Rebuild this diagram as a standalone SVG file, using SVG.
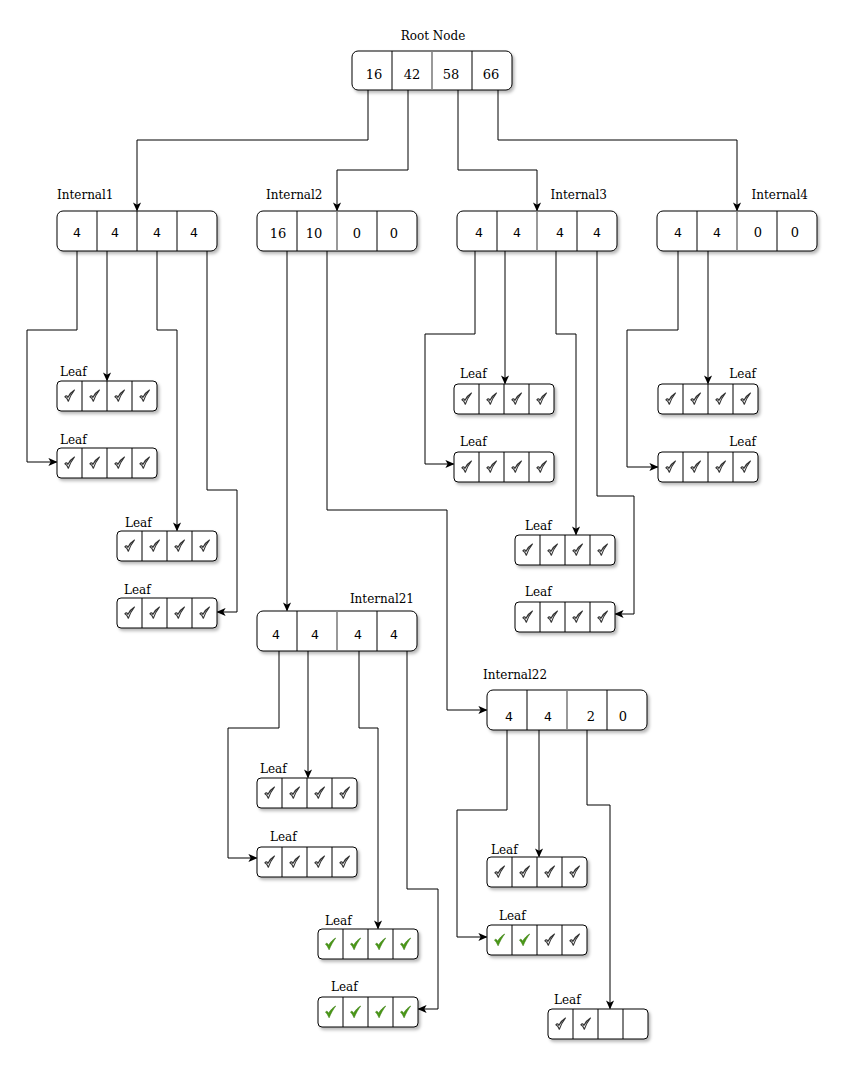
<svg xmlns="http://www.w3.org/2000/svg" xmlns:xlink="http://www.w3.org/1999/xlink" width="850" height="1067" viewBox="0 0 850 1067">
<style>
.box{fill:#fff;stroke:#000;stroke-width:1;filter:url(#sh)}
.dv{stroke:#000;stroke-width:1}
.dg{stroke:#808080;stroke-width:1.6}
.lbl{font-family:"DejaVu Serif",serif;font-size:12px;fill:#000}
.num{font-family:"DejaVu Serif",serif;font-size:13px;text-anchor:middle;fill:#000}
.ns{font-family:"DejaVu Sans",sans-serif;font-size:12.5px;text-anchor:middle;fill:#000}
.edge{fill:none;stroke:#000;stroke-width:1;marker-end:url(#arr)}
</style>
<defs>
<filter id="sh" x="-10%" y="-20%" width="130%" height="160%">
<feDropShadow dx="2" dy="2.5" stdDeviation="1.4" flood-color="#000" flood-opacity="0.28"/>
</filter>
<marker id="arr" viewBox="0 0 10 10" refX="9" refY="5" markerWidth="9" markerHeight="9" markerUnits="userSpaceOnUse" orient="auto">
<path d="M0,0.5 L10,5 L0,9.5 L2.5,5 Z" fill="#000"/>
</marker>
<g id="ck"><path d="M-4.6,0.8 C-3.6,-0.6 -2.4,-0.6 -1.7,1.4 C0,-1.8 2.2,-4.4 5,-6 C2.8,-3.2 0.6,0.2 -1.2,5.2 C-1.9,3.4 -2.9,1.8 -4.6,0.8 Z" fill="#fff" stroke="#333" stroke-width="1.15" stroke-linejoin="round"/></g>
<g id="gk"><path d="M-5,0 C-4,-1.2 -3,-1 -2,1.2 C0,-2 2.5,-4.6 5.2,-6 C2.8,-2.8 0.6,1 -1.4,5.8 C-2.4,3.6 -3.4,1.6 -5,0 Z" fill="#4a9a16" stroke="#3a7d10" stroke-width="0.6" stroke-linejoin="round"/></g>
</defs>

<g id="connectors">
<path class="edge" d="M368,90 V140 H137 V210.5"/>
<path class="edge" d="M408,90 V170 H337 V210.5"/>
<path class="edge" d="M458,90 V170 H537 V210.5"/>
<path class="edge" d="M498,90 V140 H737 V210.5"/>
<path class="edge" d="M77,251 V330 H27 V462 H56.5"/>
<path class="edge" d="M107,251 V380.5"/>
<path class="edge" d="M157,251 V330 H177 V530.5"/>
<path class="edge" d="M207,251 V490 H237 V612 H217.5"/>
<path class="edge" d="M287,251 V610.5"/>
<path class="edge" d="M327,251 V510 H447 V710 H486.5"/>
<path class="edge" d="M475,251 V334 H425 V464 H453.5"/>
<path class="edge" d="M505,251 V383.5"/>
<path class="edge" d="M556,251 V334 H576 V534.5"/>
<path class="edge" d="M597,251 V496 H634 V614 H615.5"/>
<path class="edge" d="M678,251 V330 H627 V467 H657.5"/>
<path class="edge" d="M708,251 V383.5"/>
<path class="edge" d="M279,651 V728 H228 V858 H256.5"/>
<path class="edge" d="M308,651 V777.5"/>
<path class="edge" d="M359,651 V728 H378 V928.5"/>
<path class="edge" d="M407,651 V889 H438 V1009 H418.5"/>
<path class="edge" d="M507,730 V810 H457 V937 H486.5"/>
<path class="edge" d="M539,730 V856.5"/>
<path class="edge" d="M587,730 V805 H610 V1008.5"/>
</g>

<g id="root">
<text class="lbl" x="433" y="40" text-anchor="middle">Root Node</text>
<rect class="box" x="352" y="51" width="160" height="39" rx="6"/>
<line class="dv" x1="392" y1="51" x2="392" y2="90"/>
<line class="dg" x1="432" y1="51" x2="432" y2="90"/>
<line class="dv" x1="472" y1="51" x2="472" y2="90"/>
<text class="num" x="374" y="79">16</text>
<text class="num" x="412" y="79">42</text>
<text class="num" x="451" y="79">58</text>
<text class="num" x="491" y="79">66</text>
</g>

<g id="internal1">
<text class="lbl" x="57" y="199">Internal1</text>
<rect class="box" x="57" y="211" width="160" height="40" rx="6"/>
<line class="dv" x1="97" y1="211" x2="97" y2="251"/>
<line class="dv" x1="137" y1="211" x2="137" y2="251"/>
<line class="dv" x1="177" y1="211" x2="177" y2="251"/>
<text class="ns" x="77" y="237">4</text>
<text class="ns" x="115" y="237">4</text>
<text class="ns" x="157" y="237">4</text>
<text class="ns" x="194" y="237">4</text>
</g>

<g id="internal2">
<text class="lbl" x="266" y="199">Internal2</text>
<rect class="box" x="257" y="211" width="160" height="40" rx="6"/>
<line class="dv" x1="297" y1="211" x2="297" y2="251"/>
<line class="dg" x1="337" y1="211" x2="337" y2="251"/>
<line class="dv" x1="377" y1="211" x2="377" y2="251"/>
<text class="num" x="278" y="238">16</text>
<text class="num" x="314" y="238">10</text>
<text class="num" x="357" y="238">0</text>
<text class="num" x="394" y="238">0</text>
</g>

<g id="internal3">
<text class="lbl" x="607" y="199" text-anchor="end">Internal3</text>
<rect class="box" x="457" y="211" width="160" height="40" rx="6"/>
<line class="dv" x1="497" y1="211" x2="497" y2="251"/>
<line class="dg" x1="537" y1="211" x2="537" y2="251"/>
<line class="dv" x1="577" y1="211" x2="577" y2="251"/>
<text class="ns" x="479" y="237">4</text>
<text class="ns" x="517" y="237">4</text>
<text class="ns" x="560" y="237">4</text>
<text class="ns" x="597" y="237">4</text>
</g>

<g id="internal4">
<text class="lbl" x="808" y="199" text-anchor="end">Internal4</text>
<rect class="box" x="657" y="211" width="160" height="40" rx="6"/>
<line class="dv" x1="697" y1="211" x2="697" y2="251"/>
<line class="dg" x1="737" y1="211" x2="737" y2="251"/>
<line class="dv" x1="777" y1="211" x2="777" y2="251"/>
<text class="ns" x="678" y="237">4</text>
<text class="ns" x="717" y="237">4</text>
<text class="num" x="758" y="237">0</text>
<text class="num" x="795" y="237">0</text>
</g>

<g id="internal21">
<text class="lbl" x="414" y="603" text-anchor="end">Internal21</text>
<rect class="box" x="257" y="611" width="160" height="40" rx="6"/>
<line class="dv" x1="297" y1="611" x2="297" y2="651"/>
<line class="dg" x1="337" y1="611" x2="337" y2="651"/>
<line class="dv" x1="377" y1="611" x2="377" y2="651"/>
<text class="ns" x="276" y="639">4</text>
<text class="ns" x="315" y="639">4</text>
<text class="ns" x="358" y="639">4</text>
<text class="ns" x="394" y="639">4</text>
</g>

<g id="internal22">
<text class="lbl" x="483" y="679">Internal22</text>
<rect class="box" x="487" y="690" width="160" height="40" rx="6"/>
<line class="dv" x1="527" y1="690" x2="527" y2="730"/>
<line class="dg" x1="567" y1="690" x2="567" y2="730"/>
<line class="dv" x1="607" y1="690" x2="607" y2="730"/>
<text class="ns" x="509" y="721">4</text>
<text class="ns" x="548" y="721">4</text>
<text class="num" x="591" y="721">2</text>
<text class="num" x="623" y="721">0</text>
</g>

<g id="leaf1a">
<text class="lbl" x="60" y="376">Leaf</text>
<rect class="box" x="57" y="381" width="100" height="30" rx="4"/>
<path class="dv" d="M82,381V411M107,381V411M132,381V411"/>
<use href="#ck" x="69.5" y="396"/><use href="#ck" x="94.5" y="396"/><use href="#ck" x="119.5" y="396"/><use href="#ck" x="144.5" y="396"/>
</g>
<g id="leaf1b">
<text class="lbl" x="60" y="444">Leaf</text>
<rect class="box" x="57" y="448" width="100" height="30" rx="4"/>
<path class="dv" d="M82,448V478M107,448V478M132,448V478"/>
<use href="#ck" x="69.5" y="463"/><use href="#ck" x="94.5" y="463"/><use href="#ck" x="119.5" y="463"/><use href="#ck" x="144.5" y="463"/>
</g>
<g id="leaf1c">
<text class="lbl" x="125" y="527">Leaf</text>
<rect class="box" x="117" y="531" width="100" height="30" rx="4"/>
<path class="dv" d="M142,531V561M167,531V561M192,531V561"/>
<use href="#ck" x="129.5" y="546"/><use href="#ck" x="154.5" y="546"/><use href="#ck" x="179.5" y="546"/><use href="#ck" x="204.5" y="546"/>
</g>
<g id="leaf1d">
<text class="lbl" x="124" y="594">Leaf</text>
<rect class="box" x="117" y="598" width="100" height="30" rx="4"/>
<path class="dv" d="M142,598V628M167,598V628M192,598V628"/>
<use href="#ck" x="129.5" y="613"/><use href="#ck" x="154.5" y="613"/><use href="#ck" x="179.5" y="613"/><use href="#ck" x="204.5" y="613"/>
</g>

<g id="leaf3a">
<text class="lbl" x="460" y="378">Leaf</text>
<rect class="box" x="454" y="384" width="100" height="30" rx="4"/>
<path class="dv" d="M479,384V414M504,384V414M529,384V414"/>
<use href="#ck" x="466.5" y="399"/><use href="#ck" x="491.5" y="399"/><use href="#ck" x="516.5" y="399"/><use href="#ck" x="541.5" y="399"/>
</g>
<g id="leaf3b">
<text class="lbl" x="460" y="446">Leaf</text>
<rect class="box" x="454" y="452" width="100" height="30" rx="4"/>
<path class="dv" d="M479,452V482M504,452V482M529,452V482"/>
<use href="#ck" x="466.5" y="467"/><use href="#ck" x="491.5" y="467"/><use href="#ck" x="516.5" y="467"/><use href="#ck" x="541.5" y="467"/>
</g>
<g id="leaf3c">
<text class="lbl" x="525" y="530">Leaf</text>
<rect class="box" x="515" y="535" width="100" height="30" rx="4"/>
<path class="dv" d="M540,535V565M565,535V565M590,535V565"/>
<use href="#ck" x="527.5" y="550"/><use href="#ck" x="552.5" y="550"/><use href="#ck" x="577.5" y="550"/><use href="#ck" x="602.5" y="550"/>
</g>
<g id="leaf3d">
<text class="lbl" x="525" y="596">Leaf</text>
<rect class="box" x="515" y="602" width="100" height="30" rx="4"/>
<path class="dv" d="M540,602V632M565,602V632M590,602V632"/>
<use href="#ck" x="527.5" y="617"/><use href="#ck" x="552.5" y="617"/><use href="#ck" x="577.5" y="617"/><use href="#ck" x="602.5" y="617"/>
</g>

<g id="leaf4a">
<text class="lbl" x="756" y="378" text-anchor="end">Leaf</text>
<rect class="box" x="658" y="384" width="100" height="30" rx="4"/>
<path class="dv" d="M683,384V414M708,384V414M733,384V414"/>
<use href="#ck" x="670.5" y="399"/><use href="#ck" x="695.5" y="399"/><use href="#ck" x="720.5" y="399"/><use href="#ck" x="745.5" y="399"/>
</g>
<g id="leaf4b">
<text class="lbl" x="756" y="446" text-anchor="end">Leaf</text>
<rect class="box" x="658" y="452" width="100" height="30" rx="4"/>
<path class="dv" d="M683,452V482M708,452V482M733,452V482"/>
<use href="#ck" x="670.5" y="467"/><use href="#ck" x="695.5" y="467"/><use href="#ck" x="720.5" y="467"/><use href="#ck" x="745.5" y="467"/>
</g>

<g id="leaf21a">
<text class="lbl" x="260" y="773">Leaf</text>
<rect class="box" x="257" y="778" width="100" height="30" rx="4"/>
<path class="dv" d="M282,778V808M307,778V808M332,778V808"/>
<use href="#ck" x="269.5" y="793"/><use href="#ck" x="294.5" y="793"/><use href="#ck" x="319.5" y="793"/><use href="#ck" x="344.5" y="793"/>
</g>
<g id="leaf21b">
<text class="lbl" x="270" y="841">Leaf</text>
<rect class="box" x="257" y="847" width="100" height="30" rx="4"/>
<path class="dv" d="M282,847V877M307,847V877M332,847V877"/>
<use href="#ck" x="269.5" y="862"/><use href="#ck" x="294.5" y="862"/><use href="#ck" x="319.5" y="862"/><use href="#ck" x="344.5" y="862"/>
</g>
<g id="leaf21c">
<text class="lbl" x="325" y="925">Leaf</text>
<rect class="box" x="318" y="929" width="100" height="30" rx="4"/>
<path class="dv" d="M343,929V959M368,929V959M393,929V959"/>
<use href="#gk" x="330.5" y="944"/><use href="#gk" x="355.5" y="944"/><use href="#gk" x="380.5" y="944"/><use href="#gk" x="405.5" y="944"/>
</g>
<g id="leaf21d">
<text class="lbl" x="331" y="991">Leaf</text>
<rect class="box" x="318" y="997" width="100" height="30" rx="4"/>
<path class="dv" d="M343,997V1027M368,997V1027M393,997V1027"/>
<use href="#gk" x="330.5" y="1012"/><use href="#gk" x="355.5" y="1012"/><use href="#gk" x="380.5" y="1012"/><use href="#gk" x="405.5" y="1012"/>
</g>

<g id="leaf22a">
<text class="lbl" x="491" y="854">Leaf</text>
<rect class="box" x="487" y="857" width="100" height="30" rx="4"/>
<path class="dv" d="M512,857V887M537,857V887M562,857V887"/>
<use href="#ck" x="499.5" y="872"/><use href="#ck" x="524.5" y="872"/><use href="#ck" x="549.5" y="872"/><use href="#ck" x="574.5" y="872"/>
</g>
<g id="leaf22b">
<text class="lbl" x="499" y="920">Leaf</text>
<rect class="box" x="487" y="925" width="100" height="30" rx="4"/>
<path class="dv" d="M512,925V955M537,925V955M562,925V955"/>
<use href="#gk" x="499.5" y="940"/><use href="#gk" x="524.5" y="940"/><use href="#ck" x="549.5" y="940"/><use href="#ck" x="574.5" y="940"/>
</g>
<g id="leaf22c">
<text class="lbl" x="554" y="1004">Leaf</text>
<rect class="box" x="548" y="1009" width="100" height="30" rx="4"/>
<path class="dv" d="M573,1009V1039M598,1009V1039M623,1009V1039"/>
<use href="#ck" x="560.5" y="1024"/><use href="#ck" x="585.5" y="1024"/>
</g>
</svg>
